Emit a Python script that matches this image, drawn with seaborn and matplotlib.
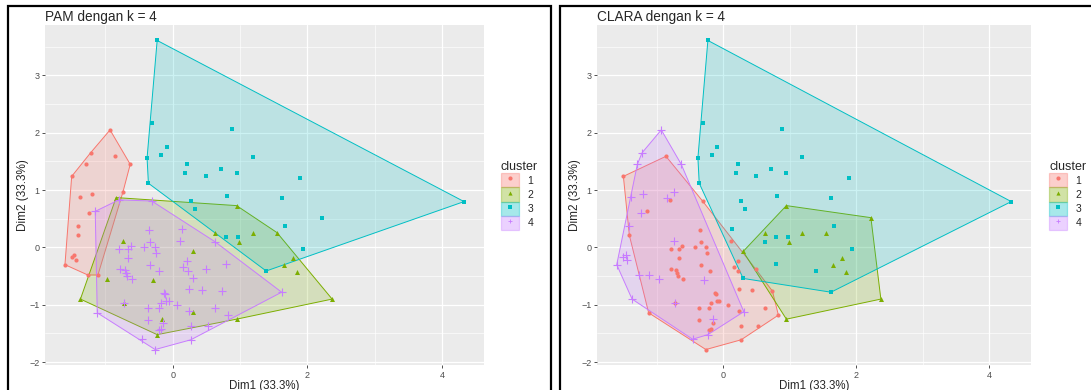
import numpy as np
import pandas as pd
import matplotlib
matplotlib.use("Agg")
import matplotlib.pyplot as plt
import seaborn as sns
from matplotlib.patches import Patch, Rectangle
from matplotlib.lines import Line2D
from matplotlib.legend_handler import HandlerTuple

# ── Data: PCA coordinates, grouped by PAM cluster, with the CLARA label of each point ──
pam1_dim1 = [-0.93, -1.22, -0.86, -1.29, -0.63, -1.50, -1.20, -1.38, -0.74,
             -1.24, -1.41, -1.41, -1.46, -1.50, -1.44, -1.60, -1.26, -1.11]
pam1_dim2 = [2.05, 1.65, 1.59, 1.45, 1.45, 1.24, 0.94, 0.88, 0.96,
             0.60, 0.37, 0.21, -0.13, -0.16, -0.22, -0.30, -0.48, -0.48]
pam1_clara = [4, 4, 1, 4, 4, 1, 4, 4, 4, 4, 4, 1, 4, 4, 4, 4, 4, 4]

pam2_dim1 = [-0.84, 0.95, 0.63, 1.19, 1.55, 0.99, -0.74, 0.30, 1.79, 1.65,
             1.85, -0.97, -0.29, -1.37, 2.37, -0.72, 0.31, -0.16, 0.95, -0.23]
pam2_dim2 = [0.87, 0.73, 0.26, 0.26, 0.26, 0.10, 0.12, -0.07, -0.19, -0.30,
             -0.42, -0.55, -0.56, -0.90, -0.90, -0.96, -1.12, -1.24, -1.25, -1.52]
pam2_clara = [4, 2, 2, 2, 2, 2, 4, 2, 2, 2, 2, 4, 4, 4, 2, 4, 4, 4, 2, 4]

pam3_dim1 = [-0.23, -0.31, -0.09, -0.38, -0.17, -0.36, 0.88, 0.22, 0.19, 0.50,
             0.72, 0.95, 1.19, 1.89, 0.81, 0.27, 0.33, 1.62, 4.33, 2.22,
             1.67, 0.79, 0.97, 1.93, 1.39]
pam3_dim2 = [3.61, 2.17, 1.75, 1.56, 1.61, 1.12, 2.06, 1.46, 1.30, 1.25,
             1.36, 1.29, 1.57, 1.22, 0.90, 0.81, 0.67, 0.87, 0.80, 0.52,
             0.38, 0.19, 0.19, -0.03, -0.41]
pam3_clara = [3, 3, 3, 3, 3, 3, 3, 3, 3, 3, 3, 3, 3, 3, 3, 3, 3, 3, 3, 2,
              3, 3, 3, 3, 3]

pam4_dim1 = [-1.15, -0.80, -0.31, -0.35, 0.14, 0.11, -0.34, 0.63, -0.62, -0.79,
             -0.67, -0.43, -0.26, -0.25, -0.66, 0.22, -0.33, 0.80, 0.16, -0.78,
             -0.71, -0.70, -0.20, 0.23, 0.49, -0.68, -0.60, 0.30, 0.24, 0.44,
             0.74, 1.62, -0.13, -0.11, -0.06, -0.10, -0.18, -0.72, 0.07, -0.37,
             -0.21, 0.24, 0.63, 0.83, -0.36, -0.15, -1.12, -0.18, -0.21, 0.27,
             0.53, -0.46, 0.27, -0.26]
pam4_dim2 = [0.63, 0.83, 0.81, 0.31, 0.32, 0.12, 0.09, 0.10, 0.03, -0.03,
             -0.03, 0.01, 0.01, -0.10, -0.19, -0.23, -0.30, -0.29, -0.34, -0.38,
             -0.40, -0.44, -0.41, -0.41, -0.38, -0.50, -0.55, -0.54, -0.73, -0.75,
             -0.76, -0.78, -0.79, -0.82, -0.93, -0.94, -0.96, -0.96, -1.01, -1.05,
             -1.06, -1.10, -1.05, -1.18, -1.26, -1.32, -1.14, -1.42, -1.44, -1.37,
             -1.37, -1.60, -1.61, -1.78]
pam4_clara = [1, 1, 1, 1, 3, 1, 1, 3, 1, 1,
              1, 1, 1, 1, 1, 1, 1, 3, 1, 1,
              1, 1, 1, 1, 1, 1, 1, 3, 1, 1,
              1, 3, 1, 1, 1, 1, 1, 1, 1, 1,
              1, 1, 1, 1, 1, 1, 1, 1, 1, 1,
              1, 4, 1, 1]

cluster_labels = ["1", "2", "3", "4"]
cluster_colors = ["#F8766D", "#7CAE00", "#00BFC4", "#C77CFF"]
cluster_markers = ["o", "^", "s", "+"]
marker_sizes = [9, 13, 12, 30]
panel_titles = ["PAM dengan k = 4", "CLARA dengan k = 4"]
x_label = "Dim1 (33.3%)"
y_label = "Dim2 (33.3%)"

df = pd.DataFrame({
    "dim1": pam1_dim1 + pam2_dim1 + pam3_dim1 + pam4_dim1,
    "dim2": pam1_dim2 + pam2_dim2 + pam3_dim2 + pam4_dim2,
    "pam": [1] * len(pam1_dim1) + [2] * len(pam2_dim1)
           + [3] * len(pam3_dim1) + [4] * len(pam4_dim1),
    "clara": pam1_clara + pam2_clara + pam3_clara + pam4_clara,
})


def convex_hull(pts):
    """Monotone chain hull, returns vertices in order."""
    pts = sorted(set(map(tuple, pts)))
    if len(pts) < 3:
        return pts

    def cross(o, a, b):
        return (a[0] - o[0]) * (b[1] - o[1]) - (a[1] - o[1]) * (b[0] - o[0])

    lower, upper = [], []
    for p in pts:
        while len(lower) >= 2 and cross(lower[-2], lower[-1], p) <= 0:
            lower.pop()
        lower.append(p)
    for p in reversed(pts):
        while len(upper) >= 2 and cross(upper[-2], upper[-1], p) <= 0:
            upper.pop()
        upper.append(p)
    return lower[:-1] + upper[:-1]


sns.set_theme(style="darkgrid", rc={
    "axes.facecolor": "#EBEBEB",
    "grid.color": "white",
    "axes.edgecolor": "none",
})
plt.rcParams["font.family"] = ["Liberation Sans", "DejaVu Sans"]

W, H = 1091, 390
fig = plt.figure(figsize=(W / 100, H / 100), dpi=100)
fig.patch.set_facecolor("white")

# panel boxes in pixel coords: (left, top, right, bottom)
panels = [(45, 25, 484, 365), (597, 25, 1031, 365)]
legend_x = [501, 1049]
frames = [(8, 6, 551, 400), (560, 6, 1100, 400)]

xmin, xmax = df["dim1"].min(), df["dim1"].max()
ymin, ymax = df["dim2"].min(), df["dim2"].max()
xpad, ypad = 0.05 * (xmax - xmin), 0.05 * (ymax - ymin)

for i, col in enumerate(["pam", "clara"]):
    l, t, r, b = panels[i]
    ax = fig.add_axes([l / W, (H - b) / H, (r - l) / W, (b - t) / H])

    for k in range(4):
        sub = df[df[col] == k + 1]
        hull = np.array(convex_hull(sub[["dim1", "dim2"]].values))
        ax.fill(hull[:, 0], hull[:, 1], facecolor=cluster_colors[k], alpha=0.2,
                edgecolor="none", zorder=2)
        ax.fill(hull[:, 0], hull[:, 1], facecolor="none",
                edgecolor=cluster_colors[k], linewidth=0.7, zorder=2)

    for k in range(4):
        sub = df[df[col] == k + 1]
        if cluster_markers[k] == "+":
            sns.scatterplot(data=sub, x="dim1", y="dim2", marker="+",
                            color=cluster_colors[k], s=marker_sizes[k],
                            linewidth=0.8, ax=ax, zorder=3, legend=False)
        else:
            sns.scatterplot(data=sub, x="dim1", y="dim2", marker=cluster_markers[k],
                            color=cluster_colors[k], s=marker_sizes[k],
                            linewidth=0, ax=ax, zorder=3, legend=False)

    ax.set_xlim(xmin - xpad, xmax + xpad)
    ax.set_ylim(ymin - ypad, ymax + ypad)
    ax.set_xticks([0, 2, 4])
    ax.set_yticks([-2, -1, 0, 1, 2, 3])
    ax.set_xticks([-1, 1, 3], minor=True)
    ax.set_yticks([-1.5, -0.5, 0.5, 1.5, 2.5, 3.5], minor=True)
    ax.grid(which="major", color="white", linewidth=0.9)
    ax.grid(which="minor", color="white", linewidth=0.45)
    ax.tick_params(which="major", length=2.5, width=0.6, color="#333333",
                   labelsize=6.5, labelcolor="#4D4D4D", pad=1.5,
                   bottom=True, left=True)
    ax.tick_params(which="minor", length=0)
    ax.set_axisbelow(True)
    ax.set_xlabel(x_label, fontsize=8.3, labelpad=0)
    ax.set_ylabel(y_label, fontsize=8.5, labelpad=0)
    ax.set_title(panel_titles[i], fontsize=9.8, loc="left", pad=3)

    handles = []
    for k in range(4):
        box = Patch(facecolor=cluster_colors[k], alpha=0.35,
                    edgecolor=cluster_colors[k], linewidth=0.9)
        mk = Line2D([], [], linestyle="none", marker=cluster_markers[k],
                    color=cluster_colors[k], markersize=3,
                    markeredgewidth=0.6 if cluster_markers[k] == "+" else 0)
        handles.append((box, mk))
    fig.legend(handles, cluster_labels, title="cluster",
               handler_map={tuple: HandlerTuple(ndivide=1, pad=0)},
               loc="upper left", bbox_to_anchor=(legend_x[i] / W, (H - 161) / H),
               frameon=False, fontsize=7.5, title_fontsize=9,
               handlelength=1.75, handleheight=1.7, labelspacing=0.02,
               handletextpad=0.8, borderaxespad=0, borderpad=0,
               alignment="left")

for l, t, r, b in frames:
    fig.patches.append(Rectangle((l / W, (H - b) / H), (r - l) / W, (b - t) / H,
                                 transform=fig.transFigure, fill=False,
                                 edgecolor="black", linewidth=1.6))

fig.savefig("out.png", dpi=100)
